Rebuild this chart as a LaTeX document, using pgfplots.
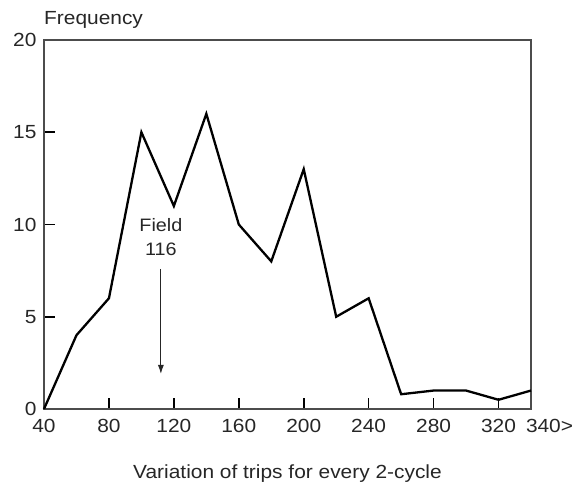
\documentclass[border=0pt]{standalone}
\usepackage{fontspec}
\setmainfont{Liberation Sans}[FakeStretch=1.1]
\usepackage{pgfplots}
\pgfplotsset{compat=1.18}
\usetikzlibrary{arrows.meta}
\begin{document}
\begin{tikzpicture}
\begin{axis}[
  scale only axis,
  width=487pt, height=369pt,
  xmin=40, xmax=340, ymin=0, ymax=20,
  xtick={40,80,120,160,200,240,280,320,340},
  xticklabels={40,80,120,160,200,240,280,320,\makebox[0pt][l]{\hspace*{-5pt}340>}},
  ytick={0,5,10,15,20},
  tick align=inside,
  xtick pos=left, ytick pos=left,
  tick style={black, line width=1.6pt},
  major tick length=11pt,
  axis line style={black!70, line width=1.3pt},
  /pgf/number format/assume math mode=true,
  tick label style={font=\fontsize{19}{22}\selectfont, text=black!85},
  xticklabel style={yshift=-7pt},
  yticklabel style={xshift=-4pt},
  clip=false,
]
\addplot[black, line width=2.3pt, line join=miter] coordinates {
 (40,0) (60,4) (80,6) (100,15) (120,11) (140,16) (160,10) (180,8)
 (200,13) (220,5) (240,6) (260,0.8) (280,1) (300,1) (320,0.5) (340,1)
};
\node[anchor=base west, font=\fontsize{19}{22}\selectfont, text=black!85, inner sep=0pt] at ([yshift=15pt]rel axis cs:0,1) {Frequency};
\node[anchor=base, font=\fontsize{19}{22}\selectfont, text=black!85, inner sep=0pt] at ([yshift=-69pt]rel axis cs:0.5,0) {Variation of trips for every 2-cycle};
\node[align=center, font=\fontsize{18}{24}\selectfont, text=black!85, inner sep=0pt, anchor=base] at (axis cs:112,8.3) {Field\\116};
\draw[black!85, line width=1pt, -{Latex[length=9pt,width=6pt]}] (axis cs:112,7.6) -- (axis cs:112,1.9);
\end{axis}
\path ([xshift=-44pt,yshift=-80pt]current axis.south west) rectangle ([xshift=531pt,yshift=409pt]current axis.south west);
\end{tikzpicture}
\end{document}
